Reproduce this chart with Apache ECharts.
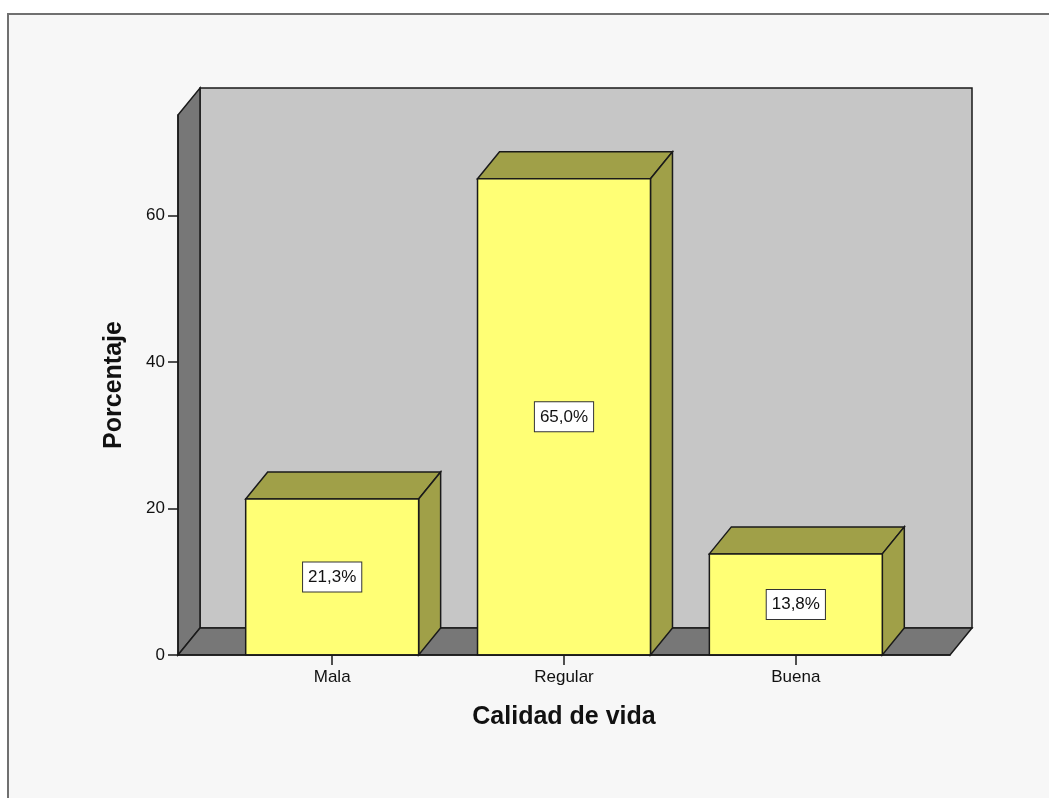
<!DOCTYPE html>
<html>
<head>
<meta charset="utf-8">
<script src="https://cdn.jsdelivr.net/npm/echarts@6/dist/echarts.min.js"></script>
<style>
  html, body { margin: 0; padding: 0; background: #ffffff; }
  #chart { width: 1049px; height: 798px; }
</style>
</head>
<body>
<div id="chart"></div>
<script>
// Survey results: quality of life distribution (percent)
const categories = ['Mala', 'Regular', 'Buena'];
const percentages = [21.3, 65.0, 13.8];
const yTickValues = [0, 20, 40, 60];
const yMax = 73.7;

// 3D look: depth offset of the back plane, in pixels
const DEPTH_X = 22;
const DEPTH_Y = -27;
// half width of a bar, in category units
const HALF_BAR = 0.373;
const FONT = '"Liberation Sans", Arial, Helvetica, sans-serif';
const EDGE = '#1a1a1a';

function formatPct(v) {
  return v.toFixed(1).replace('.', ',') + '%';
}

// Back wall, left side wall and floor of the chart box
function renderWalls(params, api) {
  const r = params.coordSys;
  const x0 = r.x, x1 = r.x + r.width;
  const yTop = r.y, yBot = r.y + r.height;
  const dx = DEPTH_X, dy = DEPTH_Y;
  return {
    type: 'group',
    children: [
      {
        type: 'rect',
        shape: { x: x0 + dx, y: yTop + dy, width: r.width, height: r.height },
        style: { fill: '#c6c6c6', stroke: EDGE, lineWidth: 1.5 }
      },
      {
        type: 'polygon',
        shape: { points: [[x0, yTop], [x0 + dx, yTop + dy], [x0 + dx, yBot + dy], [x0, yBot]] },
        style: { fill: '#777777', stroke: EDGE, lineWidth: 1.5 }
      },
      {
        type: 'polygon',
        shape: { points: [[x0, yBot], [x0 + dx, yBot + dy], [x1 + dx, yBot + dy], [x1, yBot]] },
        style: { fill: '#777777', stroke: EDGE, lineWidth: 1.5 }
      }
    ]
  };
}

// One 3D bar: front face, top face, right face and a value box
function renderBar(params, api) {
  const idx = api.value(0);
  const val = api.value(1);
  const tl = api.coord([idx - HALF_BAR, val]);
  const br = api.coord([idx + HALF_BAR, 0]);
  const mid = api.coord([idx, val / 2]);
  const x0 = tl[0], x1 = br[0], yT = tl[1], yB = br[1];
  const dx = DEPTH_X, dy = DEPTH_Y;
  return {
    type: 'group',
    children: [
      {
        type: 'polygon',
        shape: { points: [[x0, yT], [x0 + dx, yT + dy], [x1 + dx, yT + dy], [x1, yT]] },
        style: { fill: '#a0a048', stroke: EDGE, lineWidth: 1.5 }
      },
      {
        type: 'polygon',
        shape: { points: [[x1, yT], [x1 + dx, yT + dy], [x1 + dx, yB + dy], [x1, yB]] },
        style: { fill: '#a0a048', stroke: EDGE, lineWidth: 1.5 }
      },
      {
        type: 'rect',
        shape: { x: x0, y: yT, width: x1 - x0, height: yB - yT },
        style: { fill: '#ffff75', stroke: EDGE, lineWidth: 1.5 }
      },
      {
        type: 'text',
        x: mid[0],
        y: mid[1],
        style: {
          text: formatPct(val),
          font: '17px ' + FONT,
          fill: '#111111',
          align: 'center',
          verticalAlign: 'middle',
          backgroundColor: '#ffffff',
          borderColor: '#333333',
          borderWidth: 1,
          padding: [6, 5, 6, 5]
        }
      }
    ]
  };
}

const chart = echarts.init(document.getElementById('chart'), null, { renderer: 'canvas' });

chart.setOption({
  animation: false,
  textStyle: { fontFamily: FONT },
  graphic: [
    {
      type: 'rect',
      z: -10,
      silent: true,
      shape: { x: 8, y: 14, width: 1100, height: 900 },
      style: { fill: '#f7f7f7', stroke: '#707070', lineWidth: 2 }
    }
  ],
  grid: { left: 178, right: 99, top: 115, bottom: 143, containLabel: false },
  xAxis: {
    type: 'value',
    min: -0.665,
    max: 2.665,
    z: 5,
    splitLine: { show: false },
    axisLine: { show: true, onZero: false, lineStyle: { color: EDGE, width: 1.5 } },
    axisTick: { show: true, inside: false, length: 10, customValues: [0, 1, 2], lineStyle: { color: EDGE, width: 1.5 } },
    axisLabel: {
      customValues: [0, 1, 2],
      formatter: v => categories[Math.round(v)],
      fontSize: 17,
      color: '#111111',
      margin: 14
    },
    name: 'Calidad de vida',
    nameLocation: 'middle',
    nameGap: 50,
    nameTextStyle: { fontSize: 25, fontWeight: 'bold', color: '#111111', fontFamily: FONT }
  },
  yAxis: {
    type: 'value',
    min: 0,
    max: yMax,
    z: 5,
    splitLine: { show: false },
    axisLine: { show: true, onZero: false, lineStyle: { color: EDGE, width: 1.5 } },
    axisTick: { show: true, inside: false, length: 10, customValues: yTickValues, lineStyle: { color: EDGE, width: 1.5 } },
    axisLabel: {
      customValues: yTickValues,
      fontSize: 17,
      color: '#111111',
      margin: 13
    },
    name: 'Porcentaje',
    nameLocation: 'middle',
    nameRotate: 90,
    nameGap: 51,
    nameTextStyle: { fontSize: 25, fontWeight: 'bold', color: '#111111', fontFamily: FONT }
  },
  series: [
    {
      type: 'custom',
      z: 1,
      silent: true,
      clip: false,
      renderItem: renderWalls,
      data: [[0, 0]]
    },
    {
      type: 'custom',
      z: 3,
      clip: false,
      renderItem: renderBar,
      data: percentages.map((v, i) => [i, v])
    }
  ]
});
</script>
</body>
</html>
